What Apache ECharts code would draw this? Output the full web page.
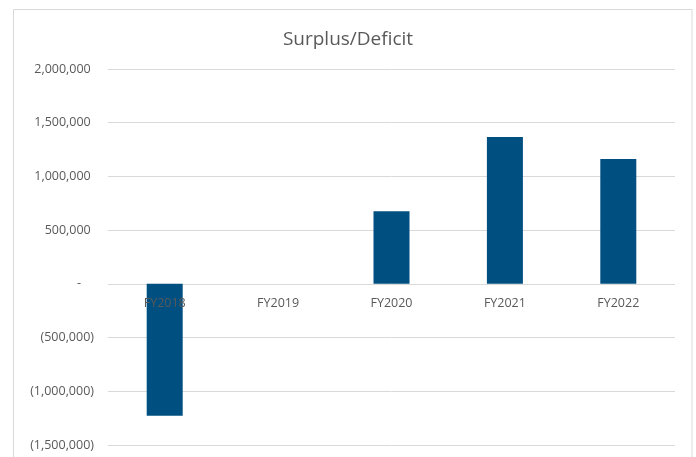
<!DOCTYPE html>
<html>
<head>
<meta charset="utf-8">
<script src="https://cdn.jsdelivr.net/npm/echarts@6/dist/echarts.min.js"></script>
<style>
html,body{margin:0;padding:0;background:#ffffff;}
#chart{width:696px;height:457px;}
</style>
</head>
<body>
<div id="chart"></div>
<script>
const categories = ['FY2018', 'FY2019', 'FY2020', 'FY2021', 'FY2022'];
const surplusDeficit = [-1228000, 0, 677000, 1366000, 1162000];
const yMin = -1500000;
const yMax = 2000000;
const yStep = 500000;

function fmt(v) {
  if (v === 0) return '-    ';
  const s = Math.abs(v).toLocaleString('en-US');
  return v < 0 ? '(' + s + ')' : s + ' ';
}

const chart = echarts.init(document.getElementById('chart'), null, {renderer: 'canvas'});
chart.setOption({
  backgroundColor: '#ffffff',
  animation: false,
  graphic: [{
    type: 'rect',
    shape: {x: 13.5, y: 9.5, width: 678.5, height: 470},
    style: {fill: 'none', stroke: '#d9d9d9', lineWidth: 1},
    silent: true
  }],
  title: {
    text: 'Surplus/Deficit',
    left: 'center',
    top: 25,
    textStyle: {color: '#595959', fontSize: 19, fontWeight: 'normal', fontFamily: 'Open Sans'}
  },
  grid: {left: 108, right: 21, top: 69, bottom: 12, containLabel: false, outerBoundsMode: 'none'},
  xAxis: {
    type: 'category',
    data: categories,
    z: 5,
    position: 'bottom',
    offset: -161,
    axisLine: {show: false, onZero: false},
    axisTick: {show: false},
    axisLabel: {show: true, color: '#595959', fontSize: 12.5, margin: 13, fontFamily: 'Open Sans'}
  },
  yAxis: {
    type: 'value',
    min: yMin,
    max: yMax,
    interval: yStep,
    axisLine: {show: false},
    axisTick: {show: false},
    splitLine: {lineStyle: {color: '#d9d9d9', width: 1}},
    axisLabel: {color: '#595959', fontSize: 12.5, margin: 14, fontFamily: 'Open Sans', formatter: fmt}
  },
  series: [{
    type: 'bar',
    data: surplusDeficit,
    barWidth: 36,
    itemStyle: {color: '#004f81'}
  }]
});
</script>
</body>
</html>
